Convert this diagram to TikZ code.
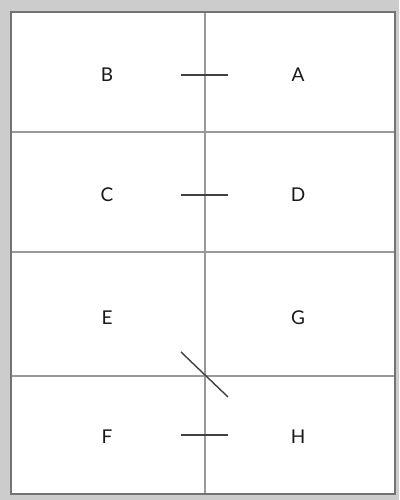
\documentclass[tikz,border=0pt]{standalone}
\usepackage{fontspec}
\setmainfont{Lato}
\begin{document}
\begin{tikzpicture}[x=1pt,y=-1pt,
  frame/.style={draw=black!55,line width=1.6pt},
  grid/.style={draw=black!40,line width=1.2pt},
  tick/.style={draw=black!75,line width=1.4pt},
  lab/.style={font=\fontsize{19}{19}\selectfont,text=black!90,inner sep=0pt}]
\fill[black!20] (0,0) rectangle (399,500);
\useasboundingbox (0,0) rectangle (399,500);
\fill[white] (11,12) rectangle (395,494);
% grid
\coordinate (vt) at (205,12);
\coordinate (vb) at (205,494);
\draw[grid] (11,132) -- (395,132);
\draw[grid] (11,252) -- (395,252);
\draw[grid] (11,376) -- (395,376);
\draw[grid] (vt) -- (vb);
\draw[frame] (11,12) rectangle (395,494);
% ticks
\coordinate (t1a) at (181,75); \coordinate (t1b) at (228,75);
\coordinate (t2a) at (181,195); \coordinate (t2b) at (228,195);
\coordinate (t3a) at (181,352); \coordinate (t3b) at (228,397);
\coordinate (t4a) at (181,435); \coordinate (t4b) at (228,435);
\draw[tick] (t1a) -- (t1b);
\draw[tick] (t2a) -- (t2b);
\draw[tick] (t3a) -- (t3b);
\draw[tick] (t4a) -- (t4b);
% labels
\node[lab] (B) at (107,75) {B};
\node[lab] (A) at (298,75) {A};
\node[lab] (C) at (107,195) {C};
\node[lab] (D) at (298,195) {D};
\node[lab] (E) at (107,318) {E};
\node[lab] (G) at (298,318) {G};
\node[lab] (F) at (107,437) {F};
\node[lab] (H) at (298,437) {H};
\end{tikzpicture}
\end{document}
